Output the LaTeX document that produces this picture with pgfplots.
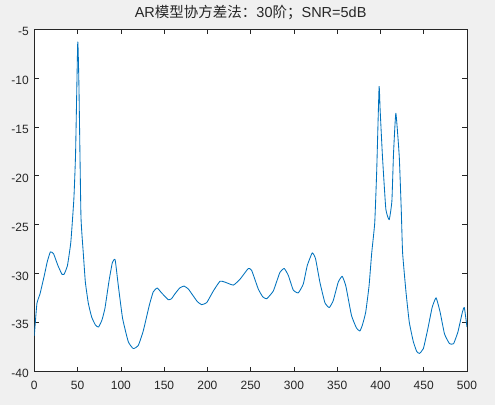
\documentclass[border=0pt]{standalone}
\usepackage{fontspec}
\setmainfont{Liberation Sans}
\newfontfamily\cjk{Noto Sans CJK SC}
\usepackage{pgfplots}
\pgfplotsset{compat=1.18}
\definecolor{figbg}{HTML}{F0F0F0}
\definecolor{axc}{HTML}{262626}
\definecolor{mblue}{HTML}{0072BD}
\begin{document}
\begin{tikzpicture}
\fill[figbg] (0,0) rectangle (495pt,405pt);
\begin{axis}[
  at={(34.3pt,34pt)}, anchor=south west,
  scale only axis, width=432.7pt, height=341.7pt,
  xmin=0, xmax=500, ymin=-40, ymax=-5,
  xtick={0,50,...,500}, ytick={-40,-35,...,-5},
  axis background/.style={fill=white},
  axis line style={axc, line width=0.6pt},
  tick style={axc, line width=0.6pt},
  tick align=inside, major tick length=4.5pt,
  /pgf/number format/assume math mode=true,
  every tick label/.append style={font=\fontsize{12}{14}\selectfont, text=axc},
  xticklabel style={yshift=-7pt},
  yticklabel style={xshift=-2pt, yshift=-2.5pt},
  title={AR{\cjk 模型协方差法：}30{\cjk 阶；}SNR=5dB},
  title style={at={(0.5,1)}, anchor=base, yshift=6pt, inner sep=0pt, font=\fontsize{14.5}{17}\selectfont, text=axc},
]
\addplot[mblue, line width=0.85pt, line join=round, smooth, tension=0.25] coordinates {
(0,-36.4) (3,-33.1) (6.6,-32.1) (11.6,-30.2) (15,-28.8) (18.6,-27.8)
(22.3,-28.0) (27.3,-29.2) (32,-30.1) (34.4,-30.1) (38.3,-29.2) (42.2,-26.8)
(45.7,-22.4) (47.7,-17.7) (50.2,-6.3) (51.6,-10.9) (53.9,-24.1) (56.6,-27.9)
(59,-30.9) (62.5,-33.1) (66.4,-34.5) (70.7,-35.3) (74.2,-35.5) (78.1,-34.8)
(81.6,-33.6) (86.3,-30.8) (90.2,-28.9) (93.4,-28.6) (97,-31.2) (102,-34.6)
(108.6,-37.0) (114.3,-37.7) (120.1,-37.4) (125.9,-35.9) (132.8,-33.3) (137.4,-31.9)
(142,-31.5) (147.1,-32.0) (154.8,-32.7) (158.5,-32.6) (162.5,-32.1)
(168,-31.5) (173,-31.3) (178,-31.6) (183.6,-32.3) (188.5,-32.9) (193.3,-33.2) (199.2,-33.0)
(206.9,-31.8) (214.6,-30.8) (220.4,-30.9) (230,-31.2) (237.7,-30.6) (247.3,-29.5)
(251.2,-29.7) (258.8,-31.6) (264,-32.4) (268.5,-32.6) (276.2,-31.8) (283.8,-29.9) (288.8,-29.5)
(293.5,-30.2) (299.2,-31.7) (305,-32.0) (310.8,-31.1) (315.4,-29.2) (321.2,-27.9)
(325,-28.5) (330,-30.9) (335.8,-33.0) (340.8,-33.5) (345.4,-32.8) (351.2,-30.9)
(355.8,-30.3) (360,-31.3) (366.5,-34.3) (372.3,-35.6) (376.2,-35.9) (379.1,-35.3)
(382.9,-34.0) (386.8,-31.3) (389.9,-27.9) (393.4,-24.8) (395.7,-19.4) (398.4,-10.9)
(399.6,-13.2) (402.3,-18.0) (406.2,-23.4) (410.1,-24.5) (413.2,-22.6) (415.1,-17.7)
(417.8,-13.6) (421.7,-18.0) (424,-23.4) (425.6,-27.9) (429.5,-31.9) (433.3,-35.0)
(438,-37.0) (441.9,-38.0) (445,-38.2) (449.6,-37.7) (454.7,-35.7) (459.7,-33.5)
(464.3,-32.5) (469,-34.0) (474,-36.2) (479.8,-37.2) (484.5,-37.2) (489.5,-36.0)
(494.6,-34.0) (496.9,-33.5) (500,-35.5)
};
\end{axis}
\end{tikzpicture}
\end{document}
